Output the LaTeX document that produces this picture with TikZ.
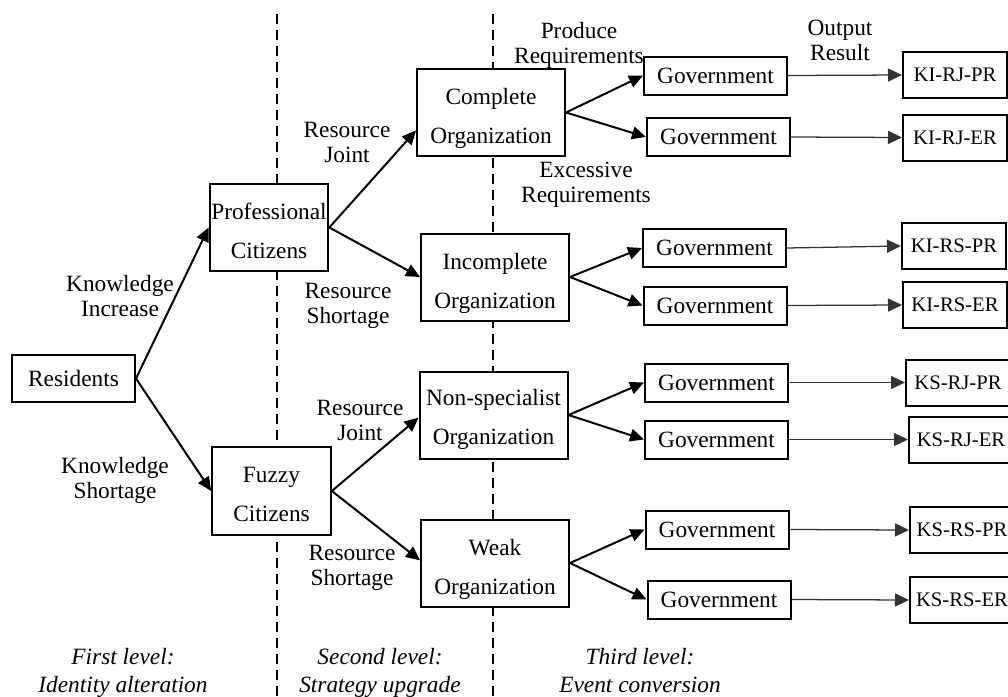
\documentclass[tikz,border=0pt]{standalone}
\usepackage{fontspec}
\setmainfont{Liberation Serif}
\usetikzlibrary{arrows.meta}
\newcommand{\toprule}[1]{\rule{0pt}{#1}}
\begin{document}
\begin{tikzpicture}[x=0.75pt,y=-0.75pt,
  font=\fontsize{17.5}{18.75}\selectfont,
  box/.style={draw, line width=1.5pt, fill=white, inner sep=0pt, align=center},
  orgbox/.style={box, minimum width=111pt, minimum height=65.25pt},
  citbox/.style={box, minimum width=89pt, minimum height=65.6pt},
  govbox/.style={box, minimum width=107.25pt, minimum height=28.5pt},
  resbox/.style={box, minimum width=78pt, minimum height=34.5pt, font=\fontsize{15.5}{18}\selectfont},
  lbl/.style={align=center, inner sep=0pt},
  lvl/.style={lbl, anchor=north, font=\fontsize{17.5}{18.75}\selectfont\itshape},
  arr/.style={line width=1.5pt, -{Triangle[length=10.5pt, width=9.5pt]}},
  harr/.style={line width=0.95pt, black!80, -{Triangle[length=10.5pt, width=9.75pt]}},
  divider/.style={line width=1.5pt, dash pattern=on 7.5pt off 4.5pt}
]
\useasboundingbox (0,0) rectangle (1008,697);
\clip (0,0) rectangle (1008,697);
\fill[white] (0,0) rectangle (1008,697);

% dividers
\coordinate (d1t) at (277,14);
\coordinate (d1b) at (277,697);
\coordinate (d2t) at (493,14);
\coordinate (d2b) at (493,697);
\draw[divider] (d1t) -- (d1b);
\draw[divider] (d2t) -- (d2b);

% first level
\node[box, minimum width=92.25pt, minimum height=35.25pt] (res) at (73.5,378.5) {Residents};
\node[citbox] (prof) at (269,227.5) {\toprule{17pt}Professional\\[10.5pt]Citizens};
\node[citbox] (fuzzy) at (271.5,491) {\toprule{16pt}Fuzzy\\[10.5pt]Citizens};

% second level
\node[orgbox] (comp) at (491,112.5) {\toprule{21.5pt}Complete\\[10.5pt]Organization};
\node[orgbox] (incomp) at (495,277) {\toprule{21.5pt}Incomplete\\[10.5pt]Organization};
\node[orgbox] (nonsp) at (493.5,415) {\toprule{19pt}Non-specialist\\[10.5pt]Organization};
\node[orgbox] (weak) at (495,563) {\toprule{21.5pt}Weak\\[10.5pt]Organization};

% government
\node[govbox] (g1) at (715.5,75.5) {Government};
\node[govbox] (g2) at (718.5,137) {Government};
\node[govbox] (g3) at (714.5,248) {Government};
\node[govbox] (g4) at (715,305.5) {Government};
\node[govbox] (g5) at (716.5,382.5) {Government};
\node[govbox] (g6) at (716.5,439.5) {Government};
\node[govbox] (g7) at (717,529.5) {Government};
\node[govbox] (g8) at (719,599.5) {Government};

% results
\node[resbox] (r1) at (955,75) {KI-RJ-PR};
\node[resbox] (r2) at (955,137.5) {KI-RJ-ER};
\node[resbox] (r3) at (954,246) {KI-RS-PR};
\node[resbox] (r4) at (955,305) {KI-RS-ER};
\node[resbox] (r5) at (958,382.5) {KS-RJ-PR};
\node[resbox] (r6) at (961,439.5) {KS-RJ-ER};
\node[resbox] (r7) at (962,530) {KS-RS-PR};
\node[resbox] (r8) at (962,600) {KS-RS-ER};

% connectors
\draw[arr] (res.east) -- (prof.west);
\draw[arr] (res.east) -- (fuzzy.west);
\draw[arr] (prof.east) -- ([yshift=-13.5pt]comp.west);
\draw[arr] (prof.east) -- (incomp.west);
\draw[arr] (fuzzy.east) -- ([yshift=-2pt]nonsp.west);
\draw[arr] (fuzzy.east) -- ([yshift=2pt]weak.west);
\draw[arr] (comp.east) -- (g1.west);
\draw[arr] (comp.east) -- (g2.west);
\draw[arr] (incomp.east) -- (g3.west);
\draw[arr] (incomp.east) -- (g4.west);
\draw[arr] (nonsp.east) -- (g5.west);
\draw[arr] (nonsp.east) -- (g6.west);
\draw[arr] (weak.east) -- (g7.west);
\draw[arr] (weak.east) -- (g8.west);
\draw[harr] (g1.east) -- (r1.west);
\draw[harr] (g2.east) -- (r2.west);
\draw[harr] (g3.east) -- (r3.west);
\draw[harr] (g4.east) -- (r4.west);
\draw[harr] (g5.east) -- (r5.west);
\draw[harr] (g6.east) -- (r6.west);
\draw[harr] (g7.east) -- (r7.west);
\draw[harr] (g8.east) -- (r8.west);

% labels
\node[lbl] (lki) at (120,296) {Knowledge\\Increase};
\node[lbl] (lks) at (115,480) {Knowledge\\Shortage};
\node[lbl] (lrj1) at (347,142.5) {Resource\\Joint};
\node[lbl] (lrs1) at (348,305.5) {Resource\\Shortage};
\node[lbl] (lrj2) at (360,420.5) {Resource\\Joint};
\node[lbl] (lrs2) at (352,568) {Resource\\Shortage};
\node[lbl] (lpr) at (579,45) {Produce\\Requirements};
\node[lbl] (ler) at (586,185) {Excessive\\Requirements};
\node[lbl] (lout) at (840,40) {Output\\Result};

\node[lvl] (lev1) at (123,648) {First level:\\[2.5pt]Identity alteration};
\node[lvl] (lev2) at (380,648) {Second level:\\[2.5pt]Strategy upgrade};
\node[lvl] (lev3) at (640,648) {Third level:\\[2.5pt]Event conversion};
\end{tikzpicture}
\end{document}
